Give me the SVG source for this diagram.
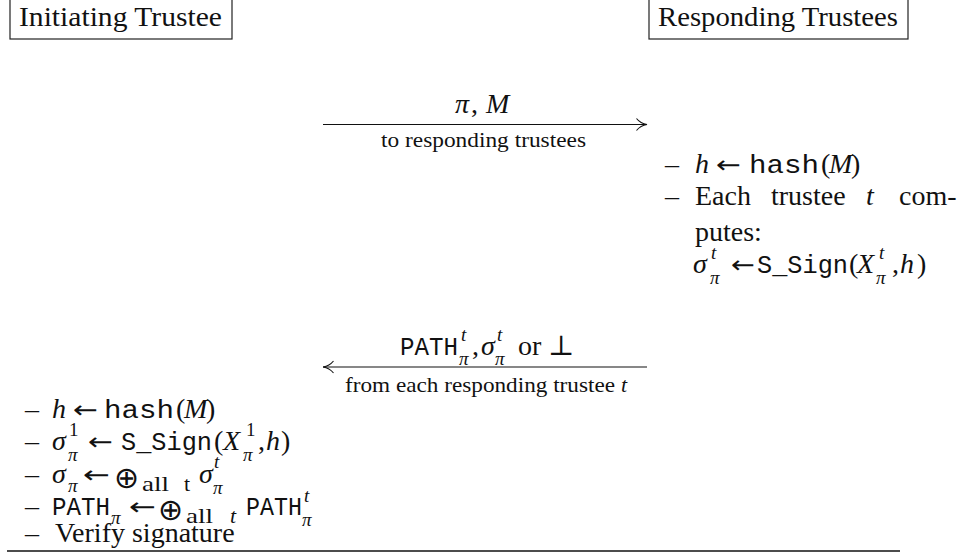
<svg xmlns="http://www.w3.org/2000/svg" width="966" height="554" viewBox="0 0 966 554">
<style>
text{font-family:"Liberation Serif","DejaVu Serif",serif;font-size:28px;fill:#111}
.i{font-style:italic}
.tt{font-family:"Liberation Mono","DejaVu Sans Mono",monospace;font-size:25px}
.s{font-size:19px}
.c{font-size:22px}
.ar{font-family:"DejaVu Sans",sans-serif;font-size:24px}
.op{font-family:"DejaVu Sans",sans-serif;font-size:30px}
.box{fill:#fff;stroke:#222;stroke-width:1.2}
.ln{stroke:#111;stroke-width:1.2;fill:none}
</style>
<defs>
<marker id="head" viewBox="0 0 12 14" refX="11.5" refY="7" markerWidth="12" markerHeight="14" markerUnits="userSpaceOnUse" orient="auto-start-reverse">
<path d="M1,1 Q5,6 11.5,7 Q5,8 1,13" fill="none" stroke="#111" stroke-width="1.1"/>
</marker>
</defs>
<rect width="966" height="554" fill="#fff"/>

<g id="initiating">
<rect class="box" x="10" y="-2" width="222" height="41"/>
<text x="19" y="26" textLength="203" lengthAdjust="spacingAndGlyphs">Initiating Trustee</text>
</g>

<g id="responding">
<rect class="box" x="649" y="-2" width="259" height="41"/>
<text x="658" y="26" textLength="240" lengthAdjust="spacingAndGlyphs">Responding Trustees</text>
</g>

<g id="connectors">
<line class="ln" x1="323" y1="124.5" x2="647" y2="124.5" marker-end="url(#head)"/>
<line class="ln" x1="323" y1="367" x2="647" y2="367" marker-start="url(#head)"/>
</g>

<g id="msg1">
<text class="i" x="455" y="113">π</text>
<text x="471" y="113">,</text>
<text class="i" x="486" y="113">M</text>
<text class="s c" x="381" y="147" textLength="205" lengthAdjust="spacingAndGlyphs">to responding trustees</text>
</g>

<g id="responder-steps">
<text x="665" y="173">–</text>
<text class="i" x="695" y="173">h</text>
<text class="ar" x="716" y="173" textLength="25" lengthAdjust="spacingAndGlyphs">←</text>
<text class="tt" x="749" y="173" textLength="70" lengthAdjust="spacingAndGlyphs">hash</text>
<text x="821" y="173">(</text>
<text class="i" x="829" y="173">M</text>
<text x="851" y="173">)</text>

<text x="665" y="205">–</text>
<text x="695" y="205">Each</text>
<text x="771" y="205">trustee</text>
<text class="i" x="866" y="205">t</text>
<text x="899" y="205">com-</text>

<text x="695" y="241">putes:</text>

<text class="i" x="693" y="273">σ</text>
<text class="i s" x="711" y="259">t</text>
<text class="i s" x="710" y="284">π</text>
<text class="ar" x="731" y="273" textLength="24" lengthAdjust="spacingAndGlyphs">←</text>
<text class="tt" x="757" y="273" textLength="91" lengthAdjust="spacingAndGlyphs">S_Sign</text>
<text x="849" y="273">(</text>
<text class="i" x="857" y="273">X</text>
<text class="i s" x="879" y="259">t</text>
<text class="i s" x="876" y="284">π</text>
<text x="892" y="273">,</text>
<text class="i" x="900" y="273">h</text>
<text x="917" y="273">)</text>
</g>

<g id="msg2">
<text class="tt" x="400" y="355" textLength="58" lengthAdjust="spacingAndGlyphs">PATH</text>
<text class="i s" x="461" y="341">t</text>
<text class="i s" x="459" y="365">π</text>
<text x="472" y="355">,</text>
<text class="i" x="481" y="355">σ</text>
<text class="i s" x="497" y="341">t</text>
<text class="i s" x="495" y="365">π</text>
<text x="518" y="355">or</text>
<text x="548" y="355">⊥</text>
<text class="s c" x="345" y="392" textLength="270" lengthAdjust="spacingAndGlyphs">from each responding trustee</text>
<text class="i s c" x="621" y="392">t</text>
</g>

<g id="initiator-steps">
<text x="25" y="418">–</text>
<text class="i" x="52" y="418">h</text>
<text class="ar" x="73" y="418" textLength="25" lengthAdjust="spacingAndGlyphs">←</text>
<text class="tt" x="104" y="418" textLength="70" lengthAdjust="spacingAndGlyphs">hash</text>
<text x="176" y="418">(</text>
<text class="i" x="184" y="418">M</text>
<text x="206" y="418">)</text>

<text x="25" y="450">–</text>
<text class="i" x="52" y="450">σ</text>
<text class="s" x="69" y="436">1</text>
<text class="i s" x="68" y="461">π</text>
<text class="ar" x="88" y="450" textLength="25" lengthAdjust="spacingAndGlyphs">←</text>
<text class="tt" x="121" y="450" textLength="91" lengthAdjust="spacingAndGlyphs">S_Sign</text>
<text x="214" y="450">(</text>
<text class="i" x="223" y="450">X</text>
<text class="s" x="246" y="436">1</text>
<text class="i s" x="243" y="461">π</text>
<text x="258" y="450">,</text>
<text class="i" x="266" y="450">h</text>
<text x="281" y="450">)</text>

<text x="25" y="483">–</text>
<text class="i" x="52" y="483">σ</text>
<text class="i s" x="68" y="492">π</text>
<text class="ar" x="83" y="483" textLength="27" lengthAdjust="spacingAndGlyphs">←</text>
<text class="op" x="114" y="488">⊕</text>
<text class="c" x="142" y="491" textLength="27" lengthAdjust="spacingAndGlyphs">all</text>
<text class="c" x="184" y="491">t</text>
<text class="i" x="199" y="483">σ</text>
<text class="i s" x="214" y="468">t</text>
<text class="i s" x="213" y="494">π</text>

<text x="25" y="515">–</text>
<text class="tt" x="52" y="515" textLength="58" lengthAdjust="spacingAndGlyphs">PATH</text>
<text class="i s" x="111" y="524">π</text>
<text class="ar" x="129" y="515" textLength="27" lengthAdjust="spacingAndGlyphs">←</text>
<text class="op" x="158" y="520">⊕</text>
<text class="c" x="186" y="523" textLength="27" lengthAdjust="spacingAndGlyphs">all</text>
<text class="i c" x="230" y="523">t</text>
<text class="tt" x="246" y="515" textLength="56" lengthAdjust="spacingAndGlyphs">PATH</text>
<text class="i s" x="304" y="502">t</text>
<text class="i s" x="302" y="526">π</text>

<text x="25" y="542">–</text>
<text x="55" y="542">Verify signature</text>
</g>

<line x1="7" y1="551" x2="900" y2="551" stroke="#111" stroke-width="1.5"/>
</svg>
